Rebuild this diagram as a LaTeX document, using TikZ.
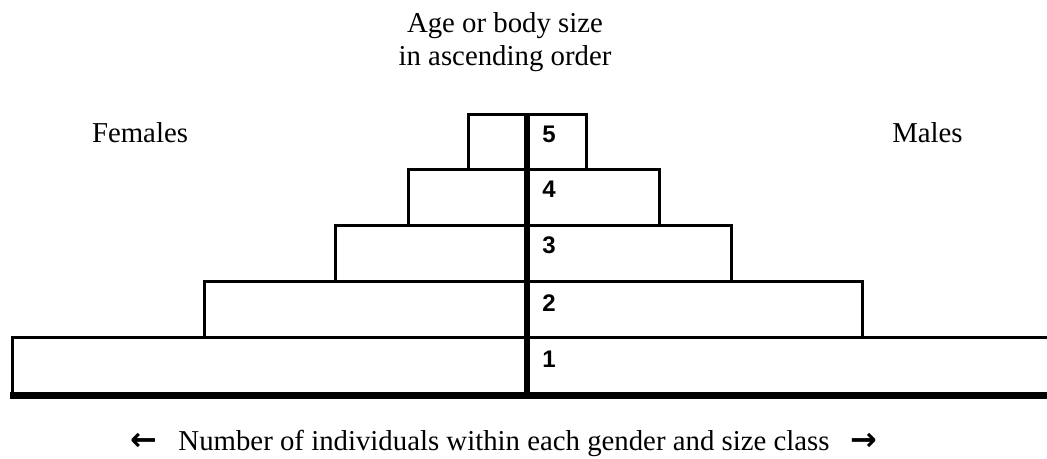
\documentclass[tikz,border=0pt]{standalone}
\usepackage{fontspec}
\setmainfont{Liberation Serif}
\setsansfont{Liberation Sans}
\newfontfamily\arrowfont{DejaVu Sans}
\begin{document}
\begin{tikzpicture}[x=0.75pt,y=-0.75pt,
  bar/.style={draw=black,line width=2.25pt},
  axisline/.style={draw=black,line width=4.5pt},
  baseline7/.style={draw=black,line width=5.25pt},
  lbl/.style={font=\fontsize{21.6}{26}\selectfont,inner sep=0pt,anchor=base},
  num/.style={font=\sffamily\bfseries\fontsize{18}{20}\selectfont,inner sep=0pt,anchor=base west},
  arr/.style={font=\arrowfont\bfseries\fontsize{24}{26}\selectfont,inner sep=0pt,anchor=base}]
\useasboundingbox (0,0) rectangle (1047,458);
% bars
\draw[bar] (468,114) rectangle (586.5,169.5);
\draw[bar] (408,169.5) rectangle (659.5,225);
\draw[bar] (335,225) rectangle (731,281);
\draw[bar] (204,281) rectangle (862.5,337);
\draw[bar] (1060,337) -- (12,337) -- (12,395.5) -- (1060,395.5);
% base line and axis
\draw[baseline7] (10,395.5) -- (1060,395.5);
\draw[axisline] (527,114) -- (527,395.5);
% class numbers
\node[num] (n5) at (542,142) {5};
\node[num] (n4) at (542,197.5) {4};
\node[num] (n3) at (542,253.5) {3};
\node[num] (n2) at (542,311) {2};
\node[num] (n1) at (542,367) {1};
% labels
\node[lbl] (title1) at (505,32) {Age or body size};
\node[lbl] (title2) at (505,65) {in ascending order};
\node[lbl] (females) at (140,142) {Females};
\node[lbl] (males) at (927.5,142) {Males};
\node[lbl] (xlabel) at (504,450) {Number of individuals within each gender and size class};
\node[arr] (larrow) at (143.5,450) {←};
\node[arr] (rarrow) at (863.5,450) {→};
\end{tikzpicture}
\end{document}
